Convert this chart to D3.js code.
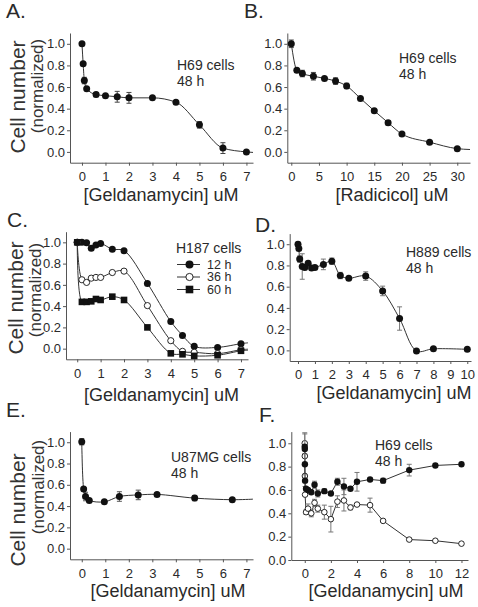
<!DOCTYPE html>
<html><head><meta charset="utf-8">
<script src="https://cdn.jsdelivr.net/npm/d3@7"></script>
<style>
body{margin:0;background:#fff;}
svg{display:block;font-family:Arial,"Liberation Sans",sans-serif;}
</style></head><body>
<svg id="c" width="478" height="607"></svg>
<script>
// ---------- DATA ----------
// Panel A: H69, geldanamycin, 48 h
const aX   = [0,0.05,0.1,0.2,0.6,1,1.5,2,3,4,5,6,7];
const aY   = [1.0,0.815,0.66,0.585,0.53,0.52,0.51,0.50,0.50,0.46,0.25,0.035,0.0];
const aErr = [0.01,0,0.03,0.01,0.02,0.01,0.05,0.05,0.01,0.01,0.03,0.05,0];
const aTail = [7.28,-0.005];
// Panel B: H69, radicicol, 48 h
const bX   = [0,1,2,4,6,8,10,12.5,15,17.5,20,25,30];
const bY   = [1.0,0.755,0.725,0.70,0.68,0.655,0.61,0.495,0.38,0.27,0.165,0.09,0.03];
const bErr = [0.035,0.01,0.03,0.035,0.01,0.03,0.025,0.01,0.01,0.02,0.01,0.01,0.01];
const bTail = [32.3,0.022];
// Panel C: H187, geldanamycin, 12/36/60 h
const cX   = [0,0.2,0.4,0.6,0.8,1,1.5,2,3,4,4.5,5,6,7];
const c12  = [1.0,1.0,0.997,0.944,0.975,0.99,0.935,0.922,0.614,0.255,0.125,0.022,0.012,0.047];
const c36  = [1.0,0.648,0.623,0.663,0.67,0.67,0.716,0.729,0.405,0.075,-0.025,-0.034,-0.047,-0.01];
const c60  = [1.0,0.44,0.44,0.445,0.467,0.458,0.489,0.458,0.2,-0.044,-0.053,-0.068,-0.062,-0.02];
const cTail = [7.3,0.055,-0.005,-0.015];
const cLegend = ["12 h","36 h","60 h"];
// Panel D: H889, geldanamycin, 48 h
const dX   = [0,0.05,0.1,0.25,0.4,0.6,0.8,1.0,1.5,2,2.5,3,4,5,6,7,8,10];
const dY   = [1.0,0.96,0.86,0.79,0.78,0.82,0.775,0.78,0.81,0.84,0.705,0.68,0.70,0.56,0.30,-0.005,0.015,0.01];
const dErr = [0.02,0.02,0.03,0.12,0.02,0.02,0.02,0.01,0.05,0.03,0.03,0.01,0.04,0.045,0.11,0.01,0.01,0.01];
// Panel E: U87MG, geldanamycin, 48 h
const eX   = [0,0.08,0.16,0.32,0.96,1.6,2.4,3.2,4.8,6.4];
const eY   = [1.005,0.56,0.49,0.453,0.44,0.49,0.505,0.51,0.475,0.46];
const eErr = [0.03,0.01,0.04,0.01,0.01,0.045,0.045,0.01,0.025,0.01];
const eTail = [7.28,0.465];
// Panel F: H69, geldanamycin, 48 h, two series
const fX      = [0,0.005,0.01,0.025,0.1,0.25,0.5,0.75,1,1.5,2,2.5,3,3.5,4,5,6,8,10,12];
const fFilled = [0.97,0.95,0.82,0.68,0.61,0.60,0.58,0.645,0.57,0.59,0.57,0.67,0.63,0.61,0.67,0.69,0.68,0.77,0.81,0.82];
const fFErr   = [0.01,0.13,0.01,0.05,0.01,0.01,0.01,0.03,0.03,0.02,0.01,0.03,0.07,0.01,0.08,0.01,0.02,0.05,0.01,0.01];
const fOpen   = [1.0,0.89,0.72,0.56,0.41,0.44,0.40,0.49,0.44,0.41,0.35,0.50,0.51,0.45,0.475,0.47,0.335,0.175,0.165,0.14];
const fOErr   = [0.09,0.01,0.01,0.01,0.02,0.04,0.03,0.03,0.03,0.06,0.11,0.05,0.09,0.02,0.01,0.06,0.01,0.01,0.01,0.01];

// tick labels
const yTicks = [0,0.2,0.4,0.6,0.8,1.0];
const xTicks7 = [0,1,2,3,4,5,6,7];
const xTicksB = [0,5,10,15,20,25,30];
const xTicksD = [0,1,2,3,4,5,6,7,8,9,10];
const xTicksF = [0,2,4,6,8,10,12];

// ---------- DRAW ----------
const svg = d3.select("#c");
const FONT = "Arial, 'Liberation Sans', sans-serif";
const INK = "#111", AX = "#555", TXT = "#2a2a2a";

function panel(o){
  const g = svg.append("g");
  const x = d3.scaleLinear().domain(o.xd).range(o.xr);
  const y = d3.scaleLinear().domain(o.yd).range(o.yr);
  g.append("g").attr("transform",`translate(0,${o.yr[0]})`)
    .call(d3.axisBottom(x).tickValues(o.xt).tickFormat(d3.format("d")).tickSizeInner(3).tickSizeOuter(0).tickPadding(o.xpad||6))
    .attr("font-size",13).attr("font-family",FONT);
  g.append("g").attr("transform",`translate(${o.xr[0]},0)`)
    .call(d3.axisLeft(y).tickValues(o.yt).tickFormat(d3.format(".1f")).tickSizeInner(3).tickSizeOuter(0).tickPadding(2))
    .attr("font-size",13).attr("font-family",FONT);
  g.selectAll(".domain").attr("stroke",AX);
  g.selectAll(".tick line").attr("stroke",AX);
  g.selectAll(".tick text").attr("fill",TXT);
  g.append("text").attr("x",o.lx).attr("y",o.ly).attr("font-size",21).attr("fill",TXT).text(o.letter);
  g.append("text").attr("x",o.xlx).attr("y",o.xly).attr("text-anchor","middle").attr("font-size",18).attr("fill",TXT).text(o.xlabel);
  return {g,x,y};
}

function ylabels(cx1,cy1,cx2,cy2){
  svg.append("text").attr("transform",`translate(${cx1},${cy1}) rotate(-90)`).attr("text-anchor","middle")
    .attr("font-size",21).attr("fill","#333").text("Cell number");
  svg.append("text").attr("transform",`translate(${cx2},${cy2}) rotate(-90)`).attr("text-anchor","middle")
    .attr("font-size",17).attr("fill","#333").text("(normalized)");
}

function annot(x0,y0,lines,dy){
  lines.forEach((t,i)=>svg.append("text").attr("x",x0).attr("y",y0+i*dy).attr("font-size",14).attr("fill",TXT).text(t));
}

function series(p, xs, ys, errs, o){
  const pts = xs.map((v,i)=>[v,ys[i]]);
  const lpts = o.tail ? pts.concat([o.tail]) : pts;
  const line = d3.line().x(d=>p.x(d[0])).y(d=>p.y(d[1])).curve(o.curve||d3.curveLinear);
  p.g.append("path").attr("d",line(lpts)).attr("fill","none").attr("stroke",o.lc||"#333").attr("stroke-width",1);
  if(errs){
    const eg = p.g.append("g").attr("stroke",o.ec||"#555").attr("stroke-width",1);
    pts.forEach((d,i)=>{
      const e = errs[i]; if(!e) return;
      const px = p.x(d[0]), t = p.y(d[1]+e), b = p.y(d[1]-e), w = 2.5;
      eg.append("line").attr("x1",px).attr("x2",px).attr("y1",t).attr("y2",b);
      eg.append("line").attr("x1",px-w).attr("x2",px+w).attr("y1",t).attr("y2",t);
      eg.append("line").attr("x1",px-w).attr("x2",px+w).attr("y1",b).attr("y2",b);
    });
  }
  drawMarkers(p.g, pts.map(d=>[p.x(d[0]),p.y(d[1])]), o.marker||"filled", o.r||3.5);
}

function drawMarkers(g, pxs, type, r){
  pxs.forEach(([cx,cy])=>{
    if(type==="square"){
      g.append("rect").attr("x",cx-r).attr("y",cy-r).attr("width",2*r).attr("height",2*r).attr("fill",INK);
    } else if(type==="open"){
      g.append("circle").attr("cx",cx).attr("cy",cy).attr("r",r-0.4).attr("fill","#fff").attr("stroke",INK).attr("stroke-width",0.9);
    } else {
      g.append("circle").attr("cx",cx).attr("cy",cy).attr("r",r).attr("fill",INK);
    }
  });
}

// Panel A
const pA = panel({xd:[-0.51,7.28],xr:[70,253],yd:[-0.1,1.1],yr:[162.7,33],xt:xTicks7,yt:yTicks,
  letter:"A.",lx:6,ly:18,xlabel:"[Geldanamycin] uM",xlx:161,xly:201});
series(pA,aX,aY,aErr,{tail:aTail,curve:d3.curveMonotoneX,ec:"#444"});
annot(177,70,["H69 cells","48 h"],16);
ylabels(25,97,43,86);

// Panel B
const pB = panel({xd:[-0.72,32.3],xr:[287.3,470],yd:[-0.1,1.1],yr:[162.7,33],xt:xTicksB,yt:yTicks,
  letter:"B.",lx:244,ly:18,xlabel:"[Radicicol] uM",xlx:392,xly:201});
series(pB,bX,bY,bErr,{tail:bTail,curve:d3.curveMonotoneX,ec:"#444"});
annot(399,63,["H69 cells","48 h"],16);

// Panel C
const pC = panel({xd:[-0.48,7.3],xr:[66,248],yd:[-0.1,1.1],yr:[359.3,231.7],xt:xTicks7,yt:yTicks,
  letter:"C.",lx:7,ly:227,xlabel:"[Geldanamycin] uM",xlx:161.5,xly:401});
const cSeries = [[c12,"filled",cTail[1]],[c36,"open",cTail[2]],[c60,"square",cTail[3]]];
cSeries.forEach(([ys,m,t])=>series(pC,cX,ys,null,{tail:[cTail[0],t],curve:d3.curveCatmullRom.alpha(0.5),marker:m,r:m==="square"?3.3:3.5}));
svg.append("text").attr("x",176).attr("y",253).attr("font-size",14).attr("fill",TXT).text("H187 cells");
cLegend.forEach((t,i)=>{
  const yy = 264.5 + i*12.5;
  svg.append("line").attr("x1",177).attr("x2",200).attr("y1",yy).attr("y2",yy).attr("stroke","#333");
  drawMarkers(svg,[[189.5,yy]],cSeries[i][1],cSeries[i][1]==="square"?3.8:4);
  svg.append("text").attr("x",207).attr("y",yy+4.3).attr("font-size",12.5).attr("fill",TXT).text(t);
});
ylabels(23,298,41,290);

// Panel D
const pD = panel({xd:[-0.49,10.22],xr:[289.7,471],yd:[-0.1,1.1],yr:[361,233.6],xt:xTicksD,yt:yTicks,
  letter:"D.",lx:255,ly:232,xlabel:"[Geldanamycin] uM",xlx:394,xly:399});
series(pD,dX,dY,dErr,{curve:d3.curveCatmullRom.alpha(0.5),ec:"#777"});
annot(406,257,["H889 cells","48 h"],16);

// Panel E
const pE = panel({xd:[-0.5,7.28],xr:[70,253],yd:[-0.1,1.1],yr:[559.3,431.6],xt:xTicks7,yt:yTicks,
  letter:"E.",lx:6,ly:417,xlabel:"[Geldanamycin] uM",xlx:168,xly:597});
series(pE,eX,eY,eErr,{tail:eTail,curve:d3.curveCatmullRom.alpha(0.5),ec:"#555"});
annot(171,462,["U87MG cells","48 h"],16);
ylabels(25,510,44,487);

// Panel F
const pF = panel({xd:[-1.03,12.5],xr:[291.3,468],yd:[0,1.1],yr:[560,431.6],xt:xTicksF,yt:yTicks,
  letter:"F.",lx:259,ly:422,xlabel:"[Geldanamycin] uM",xlx:386,xly:597});
series(pF,fX,fOpen,fOErr,{marker:"open",r:3.2,ec:"#777"});
series(pF,fX,fFilled,fFErr,{marker:"filled",r:3.2,ec:"#777"});
annot(375,450,["H69 cells","48 h"],16);
</script>
</body></html>
